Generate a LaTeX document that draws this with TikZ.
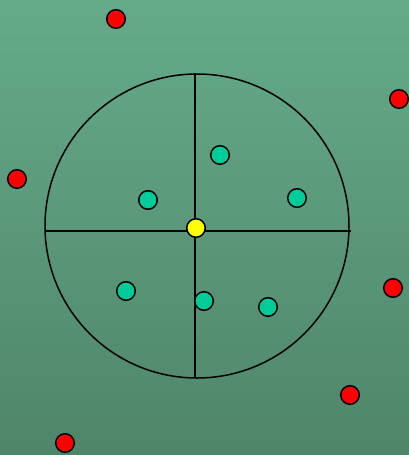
\documentclass[tikz,border=0pt]{standalone}
\usepackage{xcolor}
\usepackage{tikz}
\usetikzlibrary{positioning,calc}
\definecolor{fondoarriba}{RGB}{101,171,137}
\definecolor{fondoabajo}{RGB}{79,133,105}
\definecolor{turquesa}{RGB}{0,204,153}
\definecolor{rojo}{RGB}{255,0,0}
\definecolor{amarillo}{RGB}{255,255,0}
\tikzset{
  punto/.style={circle,draw=black,line width=1.5pt,minimum size=18.5pt,inner sep=0pt},
  externo/.style={punto,fill=rojo},
  interno/.style={punto,fill=turquesa},
  centro/.style={punto,fill=amarillo}
}

\begin{document}
\begin{tikzpicture}[x=1pt,y=-1pt]
\shade[top color=fondoarriba,bottom color=fondoabajo] (0,0) rectangle (409,455);
\useasboundingbox (0,0) rectangle (409,455);
% region circular y ejes
\draw[line width=1.5pt] (197,226) circle (152);
\draw[line width=1.5pt] (46,231) -- (351,231);
\draw[line width=1.5pt] (195,73) -- (195,378);
% puntos dentro
\node[interno] (i1) at (220,155) {};
\node[interno] (i2) at (148,200) {};
\node[interno] (i3) at (297,198) {};
\node[interno] (i4) at (126,291) {};
\node[interno] (i5) at (204,301) {};
\node[interno] (i6) at (268,307) {};
\node[centro] (c) at (196,228) {};
% puntos fuera
\node[externo] (e1) at (116,19) {};
\node[externo] (e2) at (399,99) {};
\node[externo] (e3) at (17,179) {};
\node[externo] (e4) at (393,288) {};
\node[externo] (e5) at (350,395) {};
\node[externo] (e6) at (65,443) {};
\end{tikzpicture}
\end{document}
